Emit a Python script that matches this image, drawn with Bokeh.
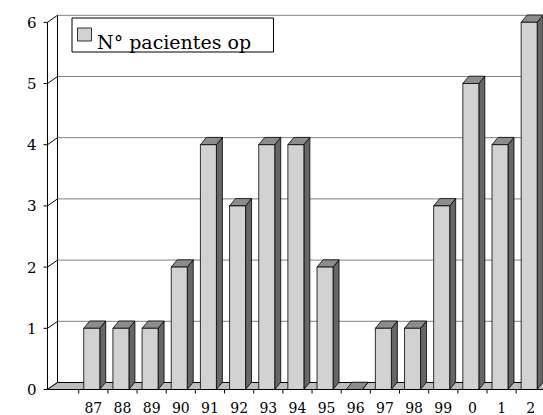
import numpy as np
from bokeh.plotting import figure
from bokeh.models import Range1d, ColumnDataSource
from bokeh.core.properties import value
from bokeh.embed import file_html
from bokeh.resources import INLINE

# ---- data ----
categories = ["", "87", "88", "89", "90", "91", "92", "93", "94", "95", "96",
              "97", "98", "99", "0", "1", "2"]
patients = [None, 1, 1, 1, 2, 4, 3, 4, 4, 2, 0, 1, 1, 3, 5, 4, 6]
y_ticks = [0, 1, 2, 3, 4, 5, 6]
y_tick_labels = ["0", "1", "2", "3", "4", "5", "6"]
series_name = "N° pacientes op"

# ---- layout (pixels) ----
W, H = 543, 415
PX_X = 29.16          # px per category
PX_Y = 61.2           # px per unit
AXIS_X = 47           # screen x of the front value axis
ZERO_FROM_BOTTOM = 26
ZERO_Y = H - ZERO_FROM_BOTTOM
x_axis0 = -2.1 / PX_X
x_start = x_axis0 - AXIS_X / PX_X
x_end = x_start + W / PX_X
y_start = -ZERO_FROM_BOTTOM / PX_Y
y_end = y_start + H / PX_Y

FONT = value("DejaVu Serif")


def sx(px):   # screen pixel -> data x
    return x_start + px / PX_X


def sy(py):   # screen pixel -> data y
    return (ZERO_Y - py) / PX_Y


wdx, wdy = 10 / PX_X, 7 / PX_Y        # wall depth offset
bdx, bdy = 6 / PX_X, 7.3 / PX_Y       # bar depth offset
bar_off, bar_w = 5 / PX_X, 16 / PX_X
tick_len_y = 4 / PX_Y
tick_len_x = 4 / PX_X

p = figure(width=W, height=H, x_range=Range1d(x_start, x_end),
           y_range=Range1d(y_start, y_end), x_axis_type=None,
           y_axis_type=None, output_backend="svg", toolbar_location=None,
           min_border=0)
p.grid.visible = False
p.outline_line_color = None
p.background_fill_color = "white"
p.border_fill_color = "white"

ymax = max(y_ticks)
wall_x = x_axis0 + wdx
n_t = len(y_ticks)

# back wall gridlines
p.segment(x0=[wall_x] * n_t, y0=[t + wdy for t in y_ticks],
          x1=[x_end] * n_t, y1=[t + wdy for t in y_ticks],
          line_color="#808080", line_width=1)
# wall left edge
p.segment(x0=[wall_x], y0=[wdy], x1=[wall_x], y1=[ymax + wdy],
          line_color="black", line_width=1)
# side wall diagonals
p.segment(x0=[x_axis0] * n_t, y0=y_ticks,
          x1=[wall_x] * n_t, y1=[t + wdy for t in y_ticks],
          line_color="black", line_width=1)

# floor
p.patch(x=[x_axis0, x_end + 1, x_end + 1, wall_x], y=[0, 0, wdy, wdy],
        fill_color="#bdbdbd", line_color="black", line_width=1)

# bars
idx = [i for i, v in enumerate(patients) if v is not None]
vals = [patients[i] for i in idx]
xl = np.array(idx, dtype=float) + bar_off
xr = xl + bar_w
v = np.array(vals, dtype=float)

side_xs = [[a, a + bdx, a + bdx, a] for a in xr]
side_ys = [[0, bdy, h + bdy, h] for h in v]
p.patches(xs=side_xs, ys=side_ys, fill_color="#666666",
          line_color="black", line_width=0.8)

top_xs = [[a, b, b + bdx, a + bdx] for a, b in zip(xl, xr)]
top_ys = [[h, h, h + bdy, h + bdy] for h in v]
p.patches(xs=top_xs, ys=top_ys, fill_color="#8c8c8c",
          line_color="black", line_width=0.8)

p.quad(left=xl, right=xr, bottom=0, top=v, fill_color="#d2d2d2",
       line_color="black", line_width=0.8)

# category ticks + front floor edge
bounds = np.arange(1, len(categories) + 1)
p.segment(x0=bounds, y0=0, x1=bounds, y1=-tick_len_y,
          line_color="black", line_width=1)
p.segment(x0=[x_axis0], y0=[0], x1=[x_end], y1=[0], line_color="black",
          line_width=1)

# value axis line + ticks
p.segment(x0=[x_axis0], y0=[0], x1=[x_axis0], y1=[ymax],
          line_color="black", line_width=1)
p.segment(x0=[x_axis0 - tick_len_x] * n_t, y0=y_ticks,
          x1=[x_axis0] * n_t, y1=y_ticks, line_color="black", line_width=1)

# category labels
src = ColumnDataSource(dict(x=np.arange(len(categories)) + 0.5,
                            y=[-18 / PX_Y] * len(categories),
                            t=categories))
p.text(x="x", y="y", text="t", source=src, text_align="center",
       text_baseline="middle", text_font=FONT,
       text_font_size="14px", text_color="black")

# value labels
ysrc = ColumnDataSource(dict(x=[sx(AXIS_X - 11)] * n_t, y=y_ticks,
                             t=y_tick_labels))
p.text(x="x", y="y", text="t", source=ysrc, text_align="right",
       text_baseline="middle", text_font=FONT,
       text_font_size="15px", text_color="black")

# legend (box, swatch, label)
p.quad(left=[sx(71.5)], right=[sx(273)], top=[sy(17.5)], bottom=[sy(51.5)],
       fill_color="white", line_color="black", line_width=1)
p.quad(left=[sx(77)], right=[sx(91)], top=[sy(27.5)], bottom=[sy(40.5)],
       fill_color="#d2d2d2", line_color="black", line_width=0.8)
p.text(x=[sx(96.5)], y=[sy(41)], text=[series_name], text_align="left",
       text_baseline="alphabetic", text_font=FONT,
       text_font_size="19px", text_color="black")

open("out.html", "w").write(file_html(p, INLINE))
